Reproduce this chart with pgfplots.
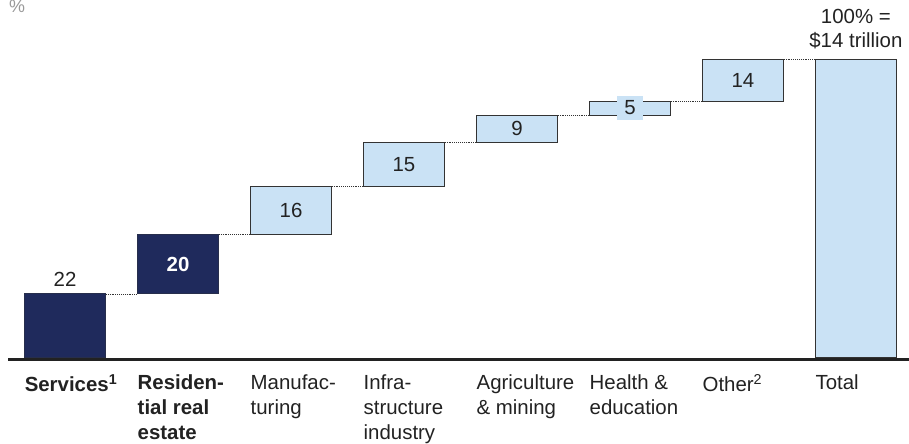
\documentclass[border=0pt]{standalone}
\usepackage{pgfplots}
\pgfplotsset{compat=1.18}
\usepackage{fontspec}
\setmainfont{Liberation Sans}
\definecolor{navy}{HTML}{1F2A5C}
\definecolor{lblue}{HTML}{CAE2F5}
\definecolor{txt}{HTML}{222222}
\definecolor{edge}{HTML}{333333}
\newcommand{\lf}{\fontsize{20.5}{25}\selectfont}
\pgfplotsset{
  wfaxis/.style={scale only axis, width=901bp, height=300bp,
    xmin=-0.505, xmax=7.47, ymin=-0.6, ymax=100, clip=false,
    at={(0,0)}, anchor=south west},
}
\begin{document}
\begin{tikzpicture}
% bars
\begin{axis}[wfaxis,
  ybar stacked, bar width=0.722,
  axis x line*=bottom, axis y line=none,
  x axis line style={line width=3.6bp, draw=txt},
  xtick={0,1,2,3,4,5,6,7}, major tick length=0pt,
  xticklabels={
    {\textbf{Services\textsuperscript{1}}},
    {\textbf{Residen-}\\\textbf{tial real}\\\textbf{estate}},
    {Manufac-\\turing},
    {Infra-\\structure\\industry},
    {Agriculture\\\& mining},
    {Health \&\\education},
    {Other\textsuperscript{2}},
    {Total}},
  xticklabel style={anchor=north west, align=left, xshift=-40.5bp, yshift=-15bp,
    font=\lf, text=txt, inner sep=0pt},
  ytick=\empty,
]
\addplot[draw=none, fill=none] coordinates {(0,0) (1,21.3) (2,41.3) (3,57.2) (4,72.2) (5,81.3) (6,86) (7,0)};
\addplot[draw=edge!40!navy, fill=navy, line width=1bp] coordinates {(0,21.3) (1,20) (2,0) (3,0) (4,0) (5,0) (6,0) (7,0)};
\addplot[draw=edge, fill=lblue, line width=1bp] coordinates {(0,0) (1,0) (2,15.9) (3,15) (4,9.1) (5,4.7) (6,14) (7,100)};
\end{axis}
% connectors and value labels
\begin{axis}[wfaxis, hide axis]
\addplot[densely dotted, line width=0.9bp, color=edge] coordinates {(0.361,21.3) (0.639,21.3)};
\addplot[densely dotted, line width=0.9bp, color=edge] coordinates {(1.361,41.3) (1.639,41.3)};
\addplot[densely dotted, line width=0.9bp, color=edge] coordinates {(2.361,57.2) (2.639,57.2)};
\addplot[densely dotted, line width=0.9bp, color=edge] coordinates {(3.361,72.2) (3.639,72.2)};
\addplot[densely dotted, line width=0.9bp, color=edge] coordinates {(4.361,81.3) (4.639,81.3)};
\addplot[densely dotted, line width=0.9bp, color=edge] coordinates {(5.361,86) (5.639,86)};
\addplot[densely dotted, line width=0.9bp, color=edge] coordinates {(6.361,100) (6.639,100)};
\node[font=\lf, text=txt, anchor=south, inner sep=0pt, yshift=7bp] at (axis cs:0,21.3) {22};
\node[font=\lf\bfseries, text=white, inner sep=0pt] at (axis cs:1,31.3) {20};
\node[font=\lf, text=txt, inner sep=0pt] at (axis cs:2,49.25) {16};
\node[font=\lf, text=txt, inner sep=0pt] at (axis cs:3,64.7) {15};
\node[font=\lf, text=txt, inner sep=0pt] at (axis cs:4,76.75) {9};
\node[font=\lf, text=txt, fill=lblue, inner xsep=7.5bp, inner ysep=5.3bp] at (axis cs:5,83.65) {5};
\node[font=\lf, text=txt, inner sep=0pt] at (axis cs:6,93) {14};
\node[font=\fontsize{20.5}{24}\selectfont, text=txt, align=center, anchor=south, inner sep=0pt, yshift=10bp] at (axis cs:7,100) {100\% =\\\$14 trillion};
\end{axis}
\node[font=\fontsize{18}{20}\selectfont, text=black!40, anchor=base west, inner sep=0pt] at (1bp,346.5bp) {\%};
\pgfresetboundingbox
\path[use as bounding box] (-8bp,-84.7bp) rectangle (901bp,359.3bp);
\end{tikzpicture}
\end{document}
